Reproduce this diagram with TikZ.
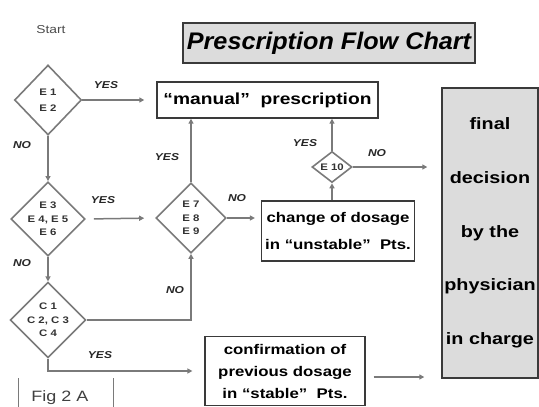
\documentclass[tikz,border=0pt]{standalone}
\usepackage{fontspec}
\setmainfont{Liberation Sans}
\newfontfamily\widefont[Ligatures=TeX,FakeStretch=1.2]{Liberation Sans}
\newfontfamily\titlefont[Ligatures=TeX,FakeStretch=1.05]{Liberation Sans}
\usetikzlibrary{shapes.geometric,arrows.meta}
\definecolor{linegray}{HTML}{7A7A7A}
\definecolor{boxgray}{HTML}{3A3A3A}
\definecolor{fillgray}{HTML}{DCDCDC}
\tikzset{
  dec/.style={diamond,draw=linegray,line width=1.6pt,inner sep=0pt,font=\widefont\fontsize{9.5}{13.5}\selectfont\bfseries,align=center,text=black!80},
  pbox/.style={rectangle,draw=boxgray,line width=1.4pt,inner sep=0pt,align=center},
  conn/.style={draw=linegray,line width=1.5pt,-{Triangle[length=5pt,width=5pt]}},
  lbl/.style={font=\widefont\fontsize{10}{11}\selectfont\bfseries\itshape,text=black!85},
}
\begin{document}
\begin{tikzpicture}[x=1pt,y=-1pt]
\useasboundingbox (0,0) rectangle (539,407);
% title
\node[pbox,fill=fillgray,minimum width=292pt,minimum height=40pt,font=\titlefont\fontsize{24}{26}\selectfont\bfseries\itshape] (title) at (329,43) {Prescription Flow Chart};
\node[font=\widefont\fontsize{11.5}{12}\selectfont,text=black!70] (start) at (51,30) {Start};
% decisions
\node[dec,minimum width=67pt,minimum height=70pt] (d1) at (48,100) {E 1\\[2pt]E 2};
\node[dec,minimum width=67pt,minimum height=74pt] (d2) at (48,219) {E 3\\E 4, E 5\\E 6};
\node[dec,minimum width=70pt,minimum height=70pt] (d3) at (191,218) {E 7\\E 8\\E 9};
\node[dec,minimum width=67pt,minimum height=66pt] (d4) at (48,320) {C 1\\C 2, C 3\\C 4};
\node[dec,minimum width=40pt,minimum height=31pt] (e10) at (332,167) {E 10};
% boxes
\node[pbox,minimum width=221pt,minimum height=36pt,font=\widefont\fontsize{16}{18}\selectfont\bfseries] (manual) at (267.5,100) {``manual''\ \ prescription};
\node[pbox,line width=1.2pt,minimum width=153pt,minimum height=60pt,font=\widefont\fontsize{14}{27}\selectfont\bfseries] (dosage) at (338,231) {change of dosage\\in ``unstable''\ \ Pts.};
\node[pbox,line width=1.2pt,minimum width=160pt,minimum height=69pt,font=\widefont\fontsize{14}{22}\selectfont\bfseries] (conf) at (285,371) {confirmation of\\previous dosage\\in ``stable''\ \ Pts.};
\node[pbox,fill=fillgray,minimum width=96pt,minimum height=290pt,font=\widefont\fontsize{16.5}{53.7}\selectfont\bfseries] (final) at (490,233) {final\\decision\\by the\\physician\\in charge};
% connectors
\draw[conn,shorten >=12pt] (d1.east) -- (manual.west);
\draw[conn] (d1.south) -- (d2.north);
\draw[conn] (d2.south) -- (d4.north);
\draw[conn,shorten <=8pt,shorten >=11pt] (d2.east) -- (d3.west);
\draw[conn] (d3.north) -- (d3.north |- manual.south);
\draw[conn,shorten >=6pt] (d3.east) -- (dosage.west |- d3.east);
\draw[conn] (e10.south |- dosage.north) -- (e10.south);
\draw[conn] (e10.north) -- (e10.north |- manual.south);
\draw[conn,shorten >=14pt] (e10.east) -- (e10.east -| final.west);
\draw[conn] (d4.east) -| (d3.south);
\draw[conn,shorten >=12pt] (d4.south) |- (conf.west);
\draw[conn,shorten <=8pt,shorten >=17pt] ([yshift=-6pt]conf.east) -- ([yshift=-6pt]conf.east -| final.west);
% labels
\node[lbl] (l1) at (106,85) {YES};
\node[lbl] (l2) at (22,145) {NO};
\node[lbl] (l3) at (103,200) {YES};
\node[lbl] (l4) at (22,263) {NO};
\node[lbl] (l5) at (167,157) {YES};
\node[lbl] (l6) at (237,198) {NO};
\node[lbl] (l7) at (305,143) {YES};
\node[lbl] (l8) at (377,153) {NO};
\node[lbl] (l9) at (175,290) {NO};
\node[lbl] (l10) at (100,355) {YES};
% figure label
\node[font=\widefont\fontsize{15}{16}\selectfont,text=black!75] (fig) at (60,398) {Fig 2 A};
\draw[linegray,line width=1pt] (18,378) -- (18,407) (113,378) -- (113,407);
\end{tikzpicture}
\end{document}
